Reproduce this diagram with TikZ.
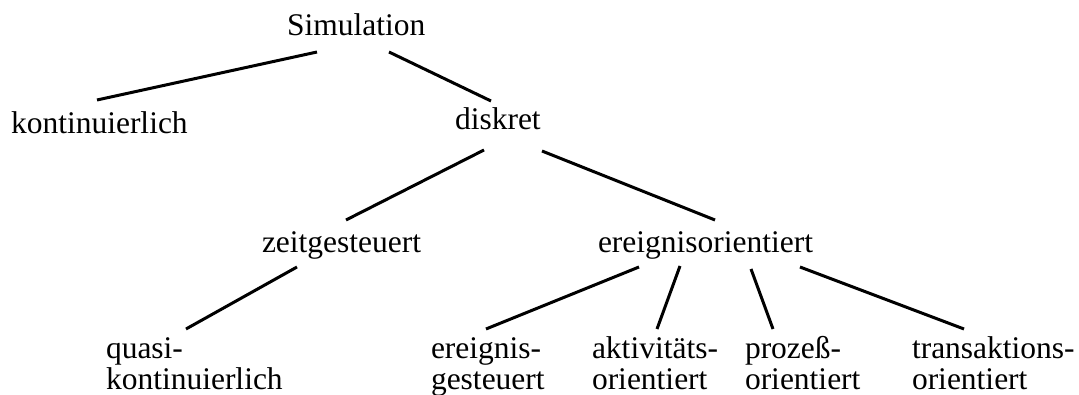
\documentclass[tikz,border=0pt]{standalone}
\usepackage{fontspec}
\setmainfont{Liberation Serif}
\begin{document}
\begin{tikzpicture}[x=1pt,y=-1pt,
  lbl/.style={anchor=base west,inner sep=0pt,outer sep=0pt,
    font=\fontsize{31.5}{32}\selectfont},
  edge/.style={line width=3pt}]
\useasboundingbox (0,0) rectangle (1079,395);

% tree levels
\node[lbl] (sim)   at (287,36)  {Simulation};
\node[lbl] (kont)  at (11,134)  {kontinuierlich};
\node[lbl] (disk)  at (455,130) {diskret};
\node[lbl] (zeit)  at (262,253) {zeitgesteuert};
\node[lbl] (ereo)  at (598,253) {ereignisorientiert};
\node[lbl] (quasi) at (106,358) {\begin{tabular}[t]{@{}l@{}}quasi-\\kontinuierlich\end{tabular}};
\node[lbl] (ereg)  at (431,358) {\begin{tabular}[t]{@{}l@{}}ereignis-\\gesteuert\end{tabular}};
\node[lbl] (akt)   at (592,358) {\begin{tabular}[t]{@{}l@{}}aktivitäts-\\orientiert\end{tabular}};
\node[lbl] (proz)  at (745,358) {\begin{tabular}[t]{@{}l@{}}prozeß-\\orientiert\end{tabular}};
\node[lbl] (trans) at (912,358) {\begin{tabular}[t]{@{}l@{}}transaktions-\\orientiert\end{tabular}};

% connectors
\draw[edge] ([shift={(30,16)}]sim.base west)   -- ([shift={(86,-34)}]kont.base west);
\draw[edge] ([shift={(102,16)}]sim.base west)  -- ([shift={(36,-29)}]disk.base west);
\draw[edge] ([shift={(29,20)}]disk.base west)  -- ([shift={(84,-33)}]zeit.base west);
\draw[edge] ([shift={(87,21)}]disk.base west)  -- ([shift={(117,-33)}]ereo.base west);
\draw[edge] ([shift={(35,14)}]zeit.base west)  -- ([shift={(80,-29)}]quasi.base west);
\draw[edge] ([shift={(41,14)}]ereo.base west)  -- ([shift={(55,-29)}]ereg.base west);
\draw[edge] ([shift={(82,13)}]ereo.base west)  -- ([shift={(65,-29)}]akt.base west);
\draw[edge] ([shift={(153,16)}]ereo.base west) -- ([shift={(28,-29)}]proz.base west);
\draw[edge] ([shift={(202,14)}]ereo.base west) -- ([shift={(52,-29)}]trans.base west);
\end{tikzpicture}
\end{document}
